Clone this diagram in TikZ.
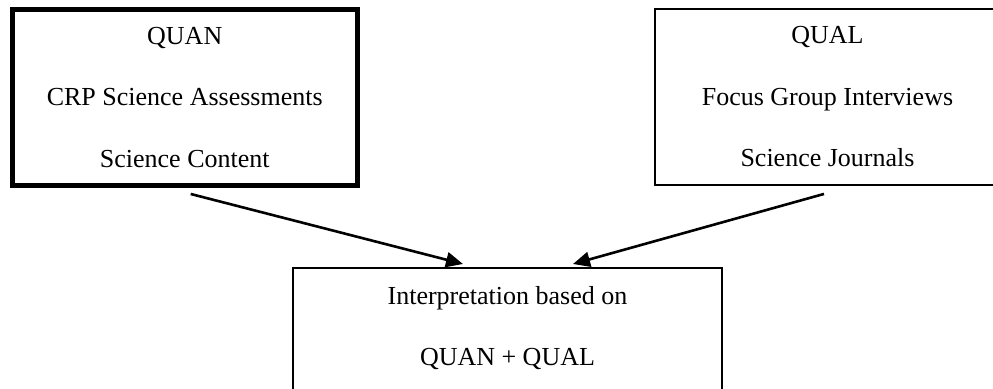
\documentclass[tikz,border=0pt]{standalone}
\usepackage{fontspec}
\setmainfont{Liberation Serif}
\usetikzlibrary{arrows.meta, positioning}

\begin{document}
\begin{tikzpicture}[x=0.5pt, y=-0.5pt, >={Triangle[length=8.5pt,width=7.5pt]},
  box/.style={draw, line width=1pt, outer sep=0pt, minimum width=172.5pt, minimum height=88pt,
    align=center, font=\fontsize{13}{30.75}\selectfont},
  boxtext/.style={align=center, inner sep=0pt, font=\fontsize{13}{30.5}\selectfont},
  link/.style={->, line width=1.3pt}]

\clip (0,0) rectangle (993,389);

%\draw[step=50,color=gray!50] (0,0) grid (993,389);

% sources
\node[box, line width=2.5pt] (quan) at (184.75,97.5) {QUAN\\CRP Science Assessments\\Science Content};
\node[box] (qual) at (827.5,96.75) {QUAL\\Focus Group Interviews\\Science Journals};

% result
\node[box, line width=1.2pt, minimum width=214.5pt, minimum height=80pt, anchor=north] (interp) at (507.5,268) {};
\node[boxtext, below=8.8pt of interp.north] (interptext) {Interpretation based on\\QUAN + QUAL};

\draw[link] ([xshift=3pt, yshift=-4.25pt]quan.south) -- ([xshift=-22.25pt, yshift=2pt]interp.north);
\draw[link] ([xshift=-1.75pt, yshift=-4.6pt]qual.south) -- ([xshift=32.75pt, yshift=2pt]interp.north);

\end{tikzpicture}
\end{document}
